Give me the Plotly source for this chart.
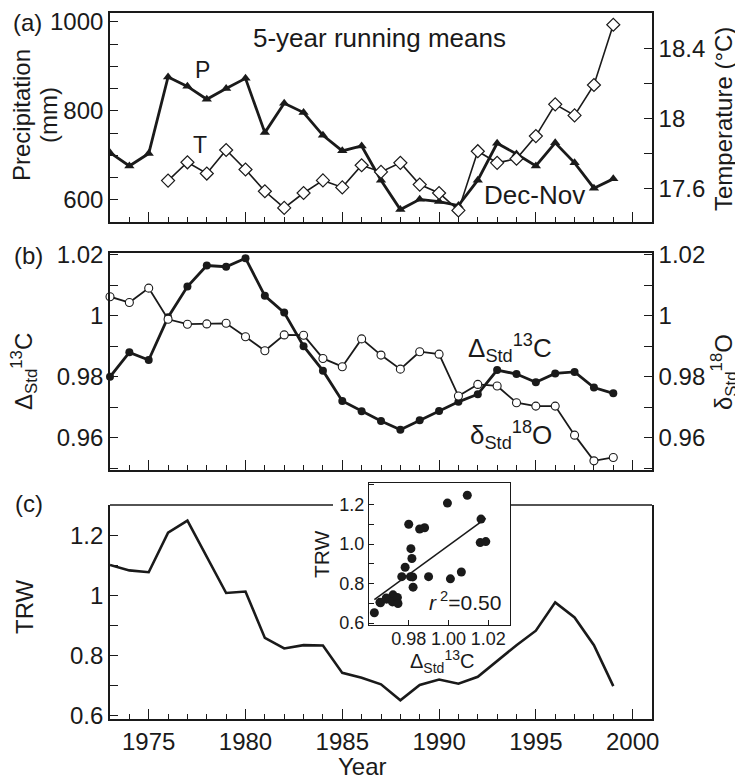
import numpy as np
import plotly.graph_objects as go

# ---------------- data ----------------
years = list(range(1973, 2000))
t_years = list(range(1976, 2000))

precip = [706, 676, 704, 876, 855, 826, 850, 873, 751, 817, 796, 745, 710, 721,
          644, 578, 601, 596, 587, 644, 727, 703, 676, 728, 683, 626, 647]
temp = [17.646, 17.75, 17.686, 17.82, 17.709, 17.585, 17.49, 17.575, 17.647, 17.607,
        17.733, 17.695, 17.747, 17.623, 17.575, 17.476, 17.813, 17.747, 17.77, 17.899,
        18.08, 18.017, 18.19, 18.533]
d13c = [0.980, 0.988, 0.9855, 0.9995, 1.0095, 1.0164, 1.016, 1.0188, 1.0065, 1.001,
        0.990, 0.982, 0.9721, 0.9687, 0.9655, 0.9627, 0.9658, 0.9688, 0.9718, 0.9743,
        0.9822, 0.9809, 0.9782, 0.9811, 0.9816, 0.9765, 0.9746]
d18o = [1.0062, 1.0043, 1.009, 0.9988, 0.9972, 0.9973, 0.9975, 0.9931, 0.9885, 0.9937,
        0.9936, 0.986, 0.9833, 0.9924, 0.9871, 0.9825, 0.9882, 0.9874, 0.9737, 0.9775,
        0.977, 0.9715, 0.9704, 0.9704, 0.9609, 0.9525, 0.9536]
trw = [1.101, 1.083, 1.077, 1.208, 1.248, 1.127, 1.008, 1.013, 0.859, 0.824, 0.835,
       0.834, 0.743, 0.727, 0.705, 0.652, 0.703, 0.721, 0.707, 0.730, 0.782, 0.835,
       0.883, 0.977, 0.927, 0.835, 0.699]

# regression for inset
slope, intercept = np.polyfit(d13c, trw, 1)
fit_x = [min(d13c), max(d13c)]
fit_y = [slope * v + intercept for v in fit_x]

W, H = 743, 780
OFF = 8  # page (body) margin of the browser
FONT = "Liberation Sans, Arial, sans-serif"
INK = "#1a1a1a"

def px(x):
    return (x - OFF) / W

def py(y):
    return 1 - (y - OFF) / H

XD = [px(110), px(652)]
DA = [py(222), py(13)]
DB = [py(470), py(253)]
DC = [py(719), py(505)]
IX = [px(369), px(510)]
IY = [py(625), py(483)]

fig = go.Figure()

# panel a
fig.add_trace(go.Scatter(x=years, y=precip, xaxis="x", yaxis="y", mode="lines+markers",
                         line=dict(color=INK, width=2.8),
                         marker=dict(symbol="triangle-up", size=9, color=INK)))
fig.add_trace(go.Scatter(x=t_years, y=temp, xaxis="x", yaxis="y2", mode="lines+markers",
                         line=dict(color=INK, width=1.6),
                         marker=dict(symbol="diamond", size=10, color="white",
                                     line=dict(color=INK, width=1.2))))
# panel b
fig.add_trace(go.Scatter(x=years, y=d18o, xaxis="x2", yaxis="y4", mode="lines+markers",
                         line=dict(color=INK, width=1.8), cliponaxis=False,
                         marker=dict(symbol="circle", size=8, color="white",
                                     line=dict(color=INK, width=1.1))))
fig.add_trace(go.Scatter(x=years, y=d13c, xaxis="x2", yaxis="y3", mode="lines+markers",
                         line=dict(color=INK, width=2.8), cliponaxis=False,
                         marker=dict(symbol="circle", size=8, color=INK)))
# panel c
fig.add_trace(go.Scatter(x=years, y=trw, xaxis="x3", yaxis="y5", mode="lines",
                         line=dict(color=INK, width=2.6)))
# inset
fig.add_trace(go.Scatter(x=d13c, y=trw, xaxis="x4", yaxis="y6", mode="markers",
                         marker=dict(symbol="circle", size=9, color=INK)))
fig.add_trace(go.Scatter(x=fit_x, y=fit_y, xaxis="x4", yaxis="y6", mode="lines",
                         line=dict(color=INK, width=1.5)))

tickfont = dict(family=FONT, size=24, color=INK)

def xax(domain, anchor, labels, mirror=True):
    return dict(domain=domain, anchor=anchor, range=[1973, 2001], showline=True,
                linecolor=INK, linewidth=1.6, mirror=mirror, ticks="inside",
                ticklen=10, tickwidth=1.2, tickcolor=INK, dtick=5, tick0=1975,
                showticklabels=labels, tickfont=tickfont, showgrid=False, zeroline=False,
                automargin=False,
                minor=dict(ticks="inside", ticklen=5, dtick=1, tickwidth=1.2,
                           tickcolor=INK, showgrid=False))

def yax(domain, anchor, rng, dtick, mdtick, side="left", overlaying=None, mirror=False):
    d = dict(domain=domain, anchor=anchor, range=rng, side=side, showline=True,
             linecolor=INK, linewidth=1.6, mirror=mirror, ticks="inside", ticklen=8,
             tickwidth=1.2, tickcolor=INK, dtick=dtick, tickfont=tickfont,
             showgrid=False, zeroline=False, automargin=False,
             minor=dict(ticks="inside", ticklen=8, dtick=mdtick, tickwidth=1.2,
                        tickcolor=INK, showgrid=False))
    if overlaying:
        d["overlaying"] = overlaying
        d.pop("domain")
    return d

small = dict(family=FONT, size=18, color=INK)

fig.update_layout(
    width=W, height=H, margin=dict(l=0, r=0, t=0, b=0, autoexpand=False),
    paper_bgcolor="white", plot_bgcolor="white", showlegend=False,
    font=dict(family=FONT, color=INK),
    xaxis=xax(XD, "y", False),
    yaxis=yax(DA, "x", [550, 1020], 200, 50),
    yaxis2=yax(DA, "x", [17.41, 18.6], 0.4, 0.2, side="right", overlaying="y"),
    xaxis2=xax(XD, "y3", False),
    yaxis3=yax(DB, "x2", [0.9495, 1.0205], 0.02, 0.01),
    yaxis4=yax(DB, "x2", [0.9495, 1.0205], 0.02, 0.01, side="right", overlaying="y3"),
    xaxis3=xax(XD, "y5", True, mirror=False),
    yaxis5=yax(DC, "x3", [0.59, 1.3], 0.2, 0.1, mirror=True),
    xaxis4=dict(domain=IX, anchor="y6", range=[0.96, 1.031], showline=True,
                linecolor=INK, linewidth=1.4, mirror=True, ticks="inside", ticklen=5,
                tickcolor=INK, tickvals=[0.98, 1.00, 1.02], tickformat=".2f",
                ticklabelstandoff=-3,
                tickfont=small, showgrid=False, zeroline=False, automargin=False),
    yaxis6=dict(domain=IY, anchor="x4", range=[0.59, 1.31], showline=True,
                linecolor=INK, linewidth=1.4, mirror=True, ticks="inside", ticklen=5,
                tickcolor=INK, dtick=0.2, tick0=0.6, tickformat=".1f",
                tickfont=small, showgrid=False, zeroline=False, automargin=False,
                minor=dict(ticks="inside", ticklen=5, dtick=0.1, tickcolor=INK,
                           showgrid=False)),
)

# top border of panel c (interrupted by the inset)
for x0, x1 in [(px(110), px(333)), (px(510), px(652))]:
    fig.add_shape(type="line", xref="paper", yref="paper", x0=x0, x1=x1,
                  y0=DC[1], y1=DC[1], line=dict(color=INK, width=1.6))

def ann(text, x, y, size=24, angle=0, xanchor="center"):
    fig.add_annotation(text=text, x=px(x), y=py(y), xref="paper", yref="paper",
                       showarrow=False, textangle=angle, xanchor=xanchor,
                       yanchor="middle", font=dict(family=FONT, size=size, color=INK))

ann("(a)", 11, 22, xanchor="left")
ann("(b)", 12, 255, xanchor="left")
ann("(c)", 13, 503, xanchor="left")
ann("P", 202, 70, size=23)
ann("T", 200, 145, size=23)
ann("5-year running means", 380, 38, size=26)
ann("Dec-Nov", 534, 195, size=26)
ann("Precipitation", 22, 115, angle=-90)
ann("(mm)", 49, 115, angle=-90)
ann("Temperature (°C)", 724, 119, angle=-90)
ann("Δ<sub>Std</sub><sup>13</sup>C", 24, 372, angle=-90)
ann("δ<sub>Std</sub><sup>18</sup>O", 724, 372, angle=-90)
ann("Δ<sub>Std</sub><sup>13</sup>C", 510, 348, size=26)
ann("δ<sub>Std</sub><sup>18</sup>O", 511, 435, size=26)
ann("TRW", 24, 607, angle=-90)
ann("Year", 362, 766)
ann("TRW", 321, 554, size=21, angle=-90)
ann("Δ<sub>Std</sub><sup>13</sup>C", 442, 661, size=20)
ann("<i>r</i><sup> 2</sup>=0.50", 503, 601, size=21, xanchor="right")

fig.write_html("out.html")
